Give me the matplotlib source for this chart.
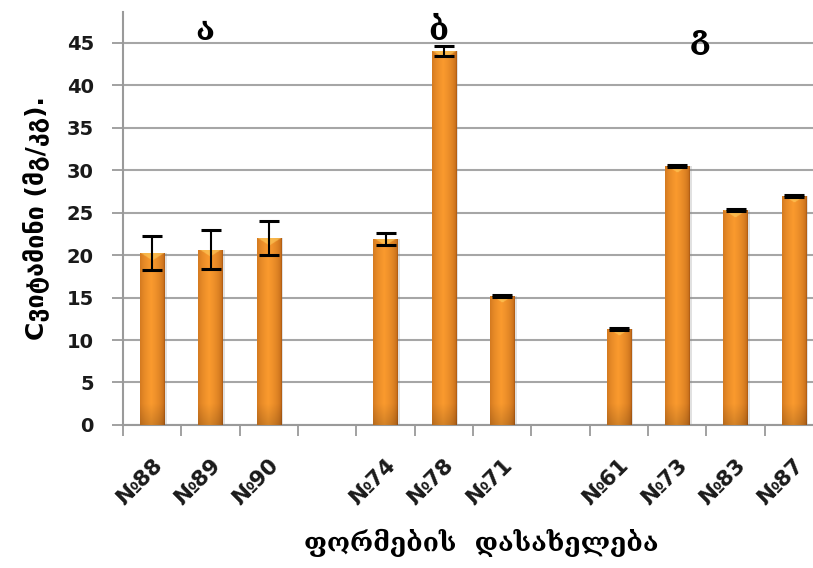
import numpy as np
import matplotlib
matplotlib.use("Agg")
import matplotlib.pyplot as plt
from matplotlib.colors import to_rgb

# Vitamin C content per form, three groups
group_titles = ["ა", "ბ", "გ"]
group_a = ["№88", "№89", "№90"]
group_b = ["№74", "№78", "№71"]
group_c = ["№61", "№73", "№83", "№87"]
values_a = [20.2, 20.6, 22.0]
values_b = [21.9, 44.0, 15.2]
values_c = [11.3, 30.5, 25.3, 27.0]
errors_a = [2.0, 2.3, 2.0]
errors_b = [0.7, 0.6, 0.12]
errors_c = [0.12, 0.12, 0.12, 0.12]
y_ticks = [0, 5, 10, 15, 20, 25, 30, 35, 40, 45]
y_label = "Cვიტამინი (მგ/კგ)."
x_label = "ფორმების  დასახელება"

groups = [group_a, group_b, group_c]
values = [values_a, values_b, values_c]
errors = [errors_a, errors_b, errors_c]

# slot layout: one empty slot between groups
labels, vals, errs, pos, group_centers = [], [], [], [], []
slot = 0
for g, (names, v, e) in enumerate(zip(groups, values, errors)):
    start = slot
    for n, vv, ee in zip(names, v, e):
        labels.append(n); vals.append(vv); errs.append(ee)
        pos.append(slot + 0.5)
        slot += 1
    group_centers.append((start + slot) / 2)
    slot += 1
n_slots = slot - 1

fig = plt.figure(figsize=(8.13, 5.68), dpi=100)
ax = fig.add_axes([0.1513, 0.2518, 0.861, 0.727])
ax.set_xlim(0, n_slots)
ax.set_ylim(0, 48.6)

bars = ax.bar(pos, vals, width=0.42, color="#F08A2A", edgecolor="none", zorder=3)

# cylinder-like shading on each bar
dark = np.array(to_rgb("#A4520F"))
light = np.array(to_rgb("#FA9A2E"))
hl = np.array(to_rgb("#FFD060"))
nx = 60
u = np.linspace(0, 1, nx)
prof = np.clip(1 - np.abs(u - 0.45) / 0.55, 0, 1) ** 0.35
for b in bars:
    x0, w, h = b.get_x(), b.get_width(), b.get_height()
    ny = max(int(h * 12), 10)
    base = dark[None, :] * (1 - prof[:, None]) + light[None, :] * prof[:, None]
    img = np.repeat(base[None, :, :], ny, axis=0)
    # darker foot near the axis
    vv = np.linspace(1, 0, ny)
    foot = np.clip(1 - vv * h / 2.5, 0, 1)[:, None, None] * 0.15
    img = img * (1 - foot)
    # highlight cap at the top
    rows_hl = 10
    for r in range(min(rows_hl, ny)):
        half = 0.5 * (1 - r / rows_hl)
        mask = np.abs(u - 0.5) < half * 0.9
        img[r, mask] = img[r, mask] * 0.4 + hl * 0.6
    # soft shadow to the right
    ax.add_patch(plt.Rectangle((x0 + w, 0), 0.04, h, color="#888888",
                               alpha=0.25, lw=0, zorder=2))
    im = ax.imshow(img, extent=[x0, x0 + w, 0, h], aspect="auto",
                   interpolation="bilinear", zorder=3)
    im.set_clip_path(b)

ax.errorbar(pos, vals, yerr=errs, fmt="none", ecolor="black",
            elinewidth=1.5, capsize=7, capthick=2.2, zorder=5)

# axes styling
for s in ["top", "right"]:
    ax.spines[s].set_visible(False)
for s in ["left", "bottom"]:
    ax.spines[s].set_color("#9A9A9A")
    ax.spines[s].set_linewidth(1.5)
ax.set_axisbelow(True)
ax.yaxis.grid(True, color="#A6A6A6", linewidth=1.5)

tick_font = ["DejaVu Sans"]
ax.set_yticks(y_ticks)
ax.tick_params(axis="y", length=8, width=1.3, color="#9A9A9A", pad=13)
for t in ax.get_yticklabels():
    t.set_fontfamily(tick_font)
    t.set_fontweight("bold")
    t.set_fontsize(14)
    t.set_color("#1A1A1A")

ax.set_xticks(np.arange(0, n_slots + 1))
ax.set_xticklabels([])
ax.tick_params(axis="x", which="major", length=8, width=1.3, color="#9A9A9A")
ax.set_xticks(pos, minor=True)
ax.set_xticklabels(labels, minor=True, rotation=45, ha="right",
                   rotation_mode="anchor", fontsize=15.5, fontweight="bold",
                   family=tick_font, color="#1A1A1A")
ax.tick_params(axis="x", which="minor", length=0, pad=22)

for title, cx, yb in zip(group_titles, group_centers, [45.3, 45.3, 44.4]):
    ax.text(cx - 0.1, yb, title, ha="center", va="baseline", fontsize=23,
            fontweight="bold", family=["DejaVu Serif", "DejaVu Sans"],
            color="black", zorder=6)

ax.set_ylabel(y_label, fontsize=18, fontweight="bold",
              family=["DejaVu Sans"], labelpad=12)
fig.text(0.592, 0.03, x_label, ha="center", va="baseline", fontsize=19,
         fontweight="bold", family=["DejaVu Serif", "DejaVu Sans"])

fig.savefig("out.png", dpi=100)
